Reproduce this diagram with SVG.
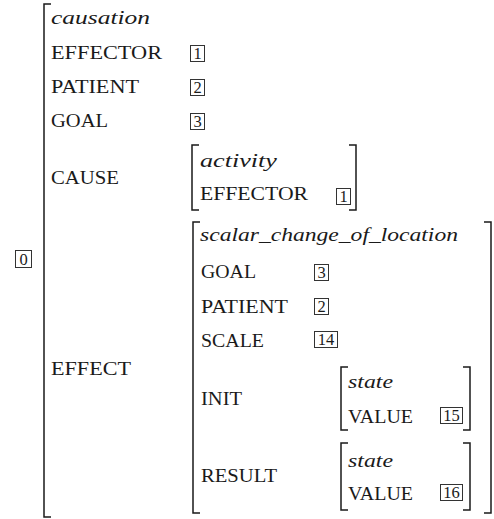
<svg xmlns="http://www.w3.org/2000/svg" width="494" height="519" viewBox="0 0 494 519" font-family="Liberation Serif">
<style>
.br{fill:none;stroke:#1a1a1a;stroke-width:1.5}
.bx{fill:none;stroke:#333;stroke-width:1}
.lb{font-size:18px;fill:#1a1a1a}
.it{font-size:18.5px;font-style:italic;fill:#1a1a1a}
.dg{font-size:16.5px;text-anchor:middle;fill:#1a1a1a}
</style>
<rect width="494" height="519" fill="#fff"/>
<g id="tag0">
<rect class="bx" x="15.5" y="250.5" width="16" height="17"/>
<text class="dg" x="23.5" y="265">0</text>
</g>
<g id="causation">
<path class="br" d="M51,4 H44 V517 H51"/>
<text class="it" x="51" y="24" textLength="99" lengthAdjust="spacingAndGlyphs">causation</text>
<text class="lb" x="51" y="59" textLength="111" lengthAdjust="spacingAndGlyphs">EFFECTOR</text>
<rect class="bx" x="190.5" y="45.5" width="14" height="16"/>
<text class="dg" x="197.5" y="59">1</text>
<text class="lb" x="51" y="93" textLength="88" lengthAdjust="spacingAndGlyphs">PATIENT</text>
<rect class="bx" x="190.5" y="79.5" width="14" height="16"/>
<text class="dg" x="197.5" y="93">2</text>
<text class="lb" x="51" y="127" textLength="57" lengthAdjust="spacingAndGlyphs">GOAL</text>
<rect class="bx" x="190.5" y="113.5" width="14" height="16"/>
<text class="dg" x="197.5" y="127">3</text>
<text class="lb" x="51" y="184" textLength="68" lengthAdjust="spacingAndGlyphs">CAUSE</text>
<text class="lb" x="51" y="375" textLength="80" lengthAdjust="spacingAndGlyphs">EFFECT</text>
</g>
<g id="activity">
<path class="br" d="M199,145 H192 V210 H199"/>
<path class="br" d="M349,145 H356 V210 H349"/>
<text class="it" x="200" y="167" textLength="77" lengthAdjust="spacingAndGlyphs">activity</text>
<text class="lb" x="200" y="200" textLength="108" lengthAdjust="spacingAndGlyphs">EFFECTOR</text>
<rect class="bx" x="336.5" y="188.5" width="14" height="16"/>
<text class="dg" x="343.5" y="202">1</text>
</g>
<g id="scalar_change_of_location">
<path class="br" d="M200,222 H193 V513 H200"/>
<path class="br" d="M484,222 H491 V513 H484"/>
<text class="it" x="200" y="241" textLength="258" lengthAdjust="spacingAndGlyphs">scalar_change_of_location</text>
<text class="lb" x="201" y="278" textLength="55" lengthAdjust="spacingAndGlyphs">GOAL</text>
<rect class="bx" x="314.5" y="264.5" width="14" height="16"/>
<text class="dg" x="321.5" y="278">3</text>
<text class="lb" x="201" y="313" textLength="87" lengthAdjust="spacingAndGlyphs">PATIENT</text>
<rect class="bx" x="314.5" y="298.5" width="14" height="16"/>
<text class="dg" x="321.5" y="312">2</text>
<text class="lb" x="201" y="347" textLength="63" lengthAdjust="spacingAndGlyphs">SCALE</text>
<rect class="bx" x="314.5" y="331.5" width="23" height="16"/>
<text class="dg" x="326" y="345">14</text>
<text class="lb" x="201" y="405" textLength="41" lengthAdjust="spacingAndGlyphs">INIT</text>
<text class="lb" x="201" y="482" textLength="76" lengthAdjust="spacingAndGlyphs">RESULT</text>
</g>
<g id="state_init">
<path class="br" d="M348,367 H341 V430 H348"/>
<path class="br" d="M463,367 H470 V430 H463"/>
<text class="it" x="348" y="388" textLength="45" lengthAdjust="spacingAndGlyphs">state</text>
<text class="lb" x="348" y="423" textLength="65" lengthAdjust="spacingAndGlyphs">VALUE</text>
<rect class="bx" x="440.5" y="407.5" width="22" height="16"/>
<text class="dg" x="451.5" y="421">15</text>
</g>
<g id="state_result">
<path class="br" d="M348,443 H341 V510 H348"/>
<path class="br" d="M463,443 H470 V510 H463"/>
<text class="it" x="348" y="467" textLength="45" lengthAdjust="spacingAndGlyphs">state</text>
<text class="lb" x="348" y="500" textLength="65" lengthAdjust="spacingAndGlyphs">VALUE</text>
<rect class="bx" x="440.5" y="484.5" width="22" height="16"/>
<text class="dg" x="451.5" y="498">16</text>
</g>
</svg>
